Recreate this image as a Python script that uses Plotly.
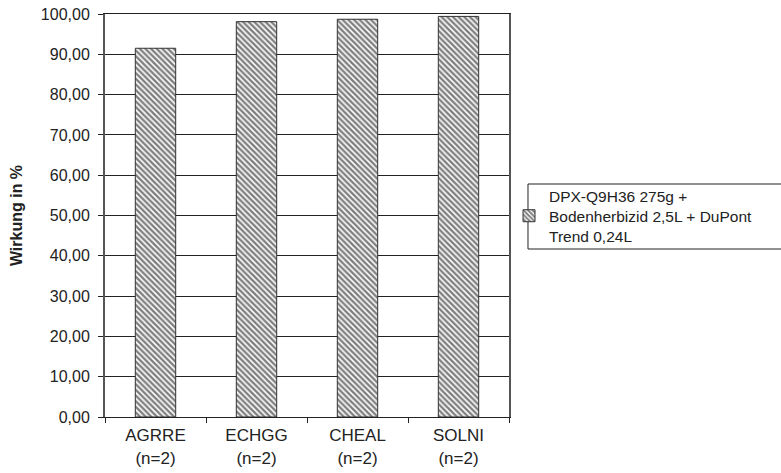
import plotly.graph_objects as go

categories = ["AGRRE<br>(n=2)", "ECHGG<br>(n=2)", "CHEAL<br>(n=2)", "SOLNI<br>(n=2)"]
values = [91.5, 98.1, 98.7, 99.4]
series_name = "DPX-Q9H36 275g +<br>Bodenherbizid 2,5L + DuPont<br>Trend 0,24L"
y_ticks = [0, 10, 20, 30, 40, 50, 60, 70, 80, 90, 100]

font_family = "Arial, Liberation Sans, sans-serif"

fig = go.Figure()
fig.add_trace(go.Bar(
    x=categories,
    y=values,
    name=series_name,
    marker=dict(
        color="white",
        line=dict(color="#333333", width=1),
        pattern=dict(shape="\\", fgcolor="#000000", bgcolor="white", size=4, solidity=0.6),
    ),
    width=0.4,
    showlegend=True,
))

fig.update_layout(
    width=781, height=473,
    margin=dict(l=105, r=272, t=14, b=56, autoexpand=False),
    paper_bgcolor="white", plot_bgcolor="white",
    separators=",.",
    font=dict(family=font_family, size=16, color="#222222"),
    showlegend=True,
    legend=dict(
        x=1.0, y=(417 - 216) / 403, xanchor="left", yanchor="middle",
        bgcolor="rgba(0,0,0,0)",
        borderwidth=0,
        font=dict(size=15.5, family=font_family, color="#222222"),
        itemwidth=30,
        tracegroupgap=0,
    ),
    shapes=[dict(
        type="rect", xref="paper", yref="paper",
        x0=1.047, x1=1.75, y0=(417 - 249) / 403, y1=(417 - 184) / 403,
        line=dict(color="#222222", width=1), fillcolor="rgba(0,0,0,0)",
    )],
)
fig.update_yaxes(
    range=[0, 100], tickvals=y_ticks, tickformat=".2f",
    tickfont=dict(size=16), automargin=False, ticklabelstandoff=5,
    showgrid=True, gridcolor="#222222", gridwidth=1,
    ticks="outside", ticklen=5, tickcolor="#222222",
    showline=True, linecolor="#555555", linewidth=2,
    zeroline=False, mirror=True,
    title=dict(text="<b>Wirkung in %</b>", font=dict(size=16, family=font_family), standoff=14),
)
fig.update_xaxes(
    tickson="boundaries", ticks="outside", ticklen=5, tickcolor="#222222",
    tickfont=dict(size=17), automargin=False, ticklabelstandoff=3,
    showline=True, linecolor="#222222", linewidth=1, mirror=True,
    showgrid=False,
)

fig.write_html("out.html")
